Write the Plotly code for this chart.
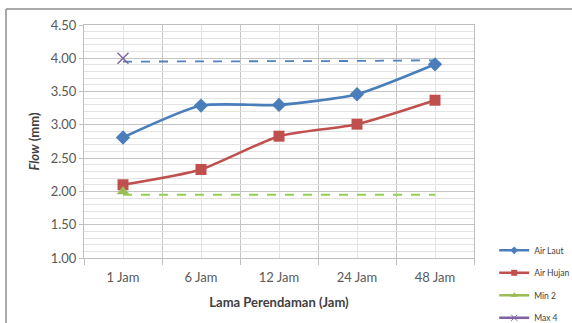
import plotly.graph_objects as go

# Soaking time categories and measured flow (mm)
categories = ["1 Jam", "6 Jam", "12 Jam", "24 Jam", "48 Jam"]
air_laut = [2.81, 3.29, 3.30, 3.46, 3.91]
air_hujan = [2.10, 2.33, 2.83, 3.01, 3.37]
min_limit = [2.00, None, None, None, None]
max_limit = [4.00, None, None, None, None]
min_ref = [1.95, 1.95, 1.95, 1.95, 1.95]
max_ref = [3.95, 3.95, 3.95, 3.96, 3.97]
y_ticks = [1.00, 1.50, 2.00, 2.50, 3.00, 3.50, 4.00, 4.50]

xs = list(range(len(categories)))
FONT = "Lato"

series = [
    ("Air Laut", air_laut, "#4a7ebb", "diamond", "spline"),
    ("Air Hujan", air_hujan, "#c0504d", "square", "spline"),
    ("Min 2", min_limit, "#9bbb59", "triangle-up", "linear"),
    ("Max 4", max_limit, "#8064a2", "x-thin", "linear"),
]

fig = go.Figure()

# Reference lines for the limits (dashed)
fig.add_trace(go.Scatter(x=xs, y=max_ref, mode="lines", showlegend=False,
                         line=dict(color="#4f81bd", width=1.8, dash="dash"),
                         hoverinfo="skip"))
fig.add_trace(go.Scatter(x=xs, y=min_ref, mode="lines", showlegend=False,
                         line=dict(color="#92d050", width=1.8, dash="dash"),
                         hoverinfo="skip"))

for i, (name, vals, color, symbol, shape) in enumerate(series):
    mline = dict(color=color, width=1.5) if symbol == "x-thin" else None
    fig.add_trace(go.Scatter(x=xs, y=vals, name=name, mode="lines+markers", showlegend=False,
                             line=dict(color=color, width=2.6, shape=shape, smoothing=0.6),
                             marker=dict(symbol=symbol, size=11, color=color, line=mline)))
    # legend entry with smaller symbol
    fig.add_trace(go.Scatter(x=[None], y=[None], name=name, mode="lines+markers",
                             legendgroup=f"g{i}",
                             line=dict(color=color, width=2.6),
                             marker=dict(symbol=symbol, size=6, color=color,
                                         line=dict(color=color, width=1) if symbol == "x-thin" else None)))

fig.update_layout(
    width=572, height=323,
    margin=dict(l=84, r=98, t=25, b=65, autoexpand=False),
    paper_bgcolor="white", plot_bgcolor="white",
    font=dict(family=FONT, color="#595959"),
    legend=dict(xref="container", yref="container", x=0.864, y=0.27,
                xanchor="left", yanchor="top",
                font=dict(size=8.5, color="#404040", family=FONT),
                tracegroupgap=3.5, itemwidth=30, bgcolor="rgba(0,0,0,0)",
                itemsizing="trace"),
    xaxis=dict(
        range=[-0.5, 4.5], tickvals=xs, ticktext=categories, automargin=False,
        tickfont=dict(size=13, color="#595959"), ticklabelstandoff=7,
        showgrid=True, gridcolor="#e3e3e3", gridwidth=1,
        ticks="", zeroline=False,
        showline=True, linecolor="#bfbfbf", linewidth=1, mirror=True,
        minor=dict(tick0=0.5, dtick=1, showgrid=True, gridcolor="#c4c4c4",
                   ticks="outside", ticklen=6, tickcolor="#bfbfbf"),
        title=dict(text="<b>Lama Perendaman (Jam)</b>", font=dict(size=13, color="#404040"),
                   standoff=14),
    ),
    yaxis=dict(
        range=[1.0, 4.5], tickvals=y_ticks, ticktext=[f"{v:.2f}" for v in y_ticks],
        automargin=False,
        tickfont=dict(size=13, color="#595959"),
        showgrid=True, gridcolor="#c4c4c4", gridwidth=1,
        ticks="outside", ticklen=4, tickcolor="#bfbfbf",
        zeroline=False,
        showline=True, linecolor="#bfbfbf", linewidth=1, mirror=True,
        minor=dict(dtick=0.1, showgrid=True, gridcolor="#e3e3e3"),
        title=dict(text="<b><i>Flow</i> (mm)</b>", font=dict(size=13, color="#404040"),
                   standoff=8),
    ),
    shapes=[
        dict(type="line", xref="paper", yref="paper", x0=-0.2, x1=1.3, y0=1.069, y1=1.069,
             line=dict(color="#8c8c8c", width=1.5)),
        dict(type="line", xref="paper", yref="paper", x0=-0.2, x1=-0.2, y0=1.069, y1=-0.3,
             line=dict(color="#8c8c8c", width=1.5)),
    ],
)

fig.write_html("out.html")
